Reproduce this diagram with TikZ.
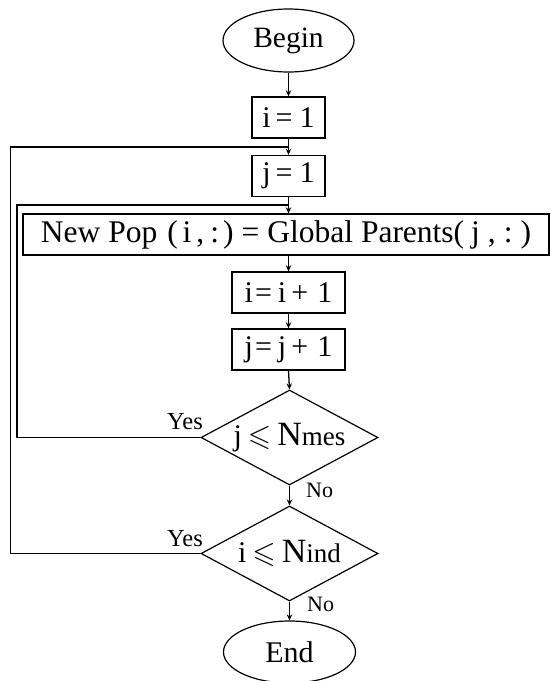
\documentclass[tikz,border=0pt]{standalone}
\usepackage{amssymb}
\usepackage{fontspec}
\setmainfont{Liberation Serif}
\usetikzlibrary{shapes.geometric,arrows.meta}
\newcommand{\gapx}[1]{\hspace{#1pt}}
\begin{document}
\begin{tikzpicture}[x=1pt,y=-1pt,
  every node/.style={inner sep=0pt},
  txt/.style={font=\fontsize{30}{32}\selectfont},
  procbox/.style={draw, line width=1.4pt, rectangle, minimum height=41pt, txt},
  term/.style={draw, line width=1.2pt, ellipse, minimum width=131pt, minimum height=63pt, font=\fontsize{29.5}{32}\selectfont},
  decide/.style={draw, line width=1.2pt, diamond, shape aspect=1.86, minimum width=177pt, minimum height=95pt, txt},
  lab/.style={font=\fontsize{24.5}{27}\selectfont},
  smlab/.style={font=\fontsize{22}{24}\selectfont},
  conn/.style={line width=1.3pt, -{Stealth[length=6pt,width=5.5pt]}},
  loopline/.style={line width=1.4pt}
]
\useasboundingbox (0,0) rectangle (551,681);
\node[term] (begin) at (288.5,40.5) {Begin};
\node[procbox, minimum width=73pt] (i1) at (288.5,117.5) {i\gapx{5}=\gapx{7}1};
\node[procbox, minimum width=73pt] (j1) at (288.5,176) {j\gapx{5}=\gapx{7}1};
\node[procbox, minimum width=526pt, font=\fontsize{31.5}{33}\selectfont] (newpop) at (286,234.5) {New Pop\gapx{10}(\gapx{5}i\gapx{5},\gapx{6}:\gapx{4})\gapx{8}=\gapx{8}Global Parents(\gapx{7}j\gapx{8},\gapx{8}:\gapx{8})};
\node[procbox, minimum width=113pt] (ii) at (288.5,292.5) {i\gapx{2}=\gapx{6}i\gapx{5}+\gapx{9}1};
\node[procbox, minimum width=113pt] (jj) at (288.5,349.5) {j\gapx{2}=\gapx{6}j\gapx{5}+\gapx{9}1};
\node[decide] (d1) at (289.5,437.5) {j\gapx{6}$\leqslant$\gapx{6}{\fontsize{34}{36}\selectfont N}{\fontsize{27}{29}\selectfont mes}};
\node[decide] (d2) at (289.5,553.5) {i\gapx{6}$\leqslant$\gapx{6}{\fontsize{34}{36}\selectfont N}{\fontsize{27}{29}\selectfont ind}};
\node[term, minimum width=132pt, minimum height=62pt, font=\fontsize{30}{32}\selectfont] (end) at (289.5,652) {End};
\coordinate (m1) at (288.5,147);
\coordinate (m2) at (288.5,205);
\coordinate (c1) at (10.5,147);
\coordinate (c2) at (17,205);
\draw[conn] (begin) -- (i1);
\draw[conn] (i1) -- (j1);
\draw[conn] (j1.south) -- (j1.south |- newpop.north);
\draw[conn] (ii.north |- newpop.south) -- (ii.north);
\draw[conn] (ii) -- (jj);
\draw[conn] (jj.south) -- (d1.north);
\draw[conn] (d1) -- (d2);
\draw[conn] (d2) -- (end);
\draw[loopline] (d1.west) -| (c2) -- (m2);
\draw[loopline] (d2.west) -| (c1) -- (m1);
\node[lab, anchor=base east] (y1) at (203,429) {Yes};
\node[lab, anchor=base east] (y2) at (203,546) {Yes};
\node[smlab, anchor=base west] (n1) at (306,497) {No};
\node[smlab, anchor=base west] (n2) at (307,611) {No};
\end{tikzpicture}
\end{document}
